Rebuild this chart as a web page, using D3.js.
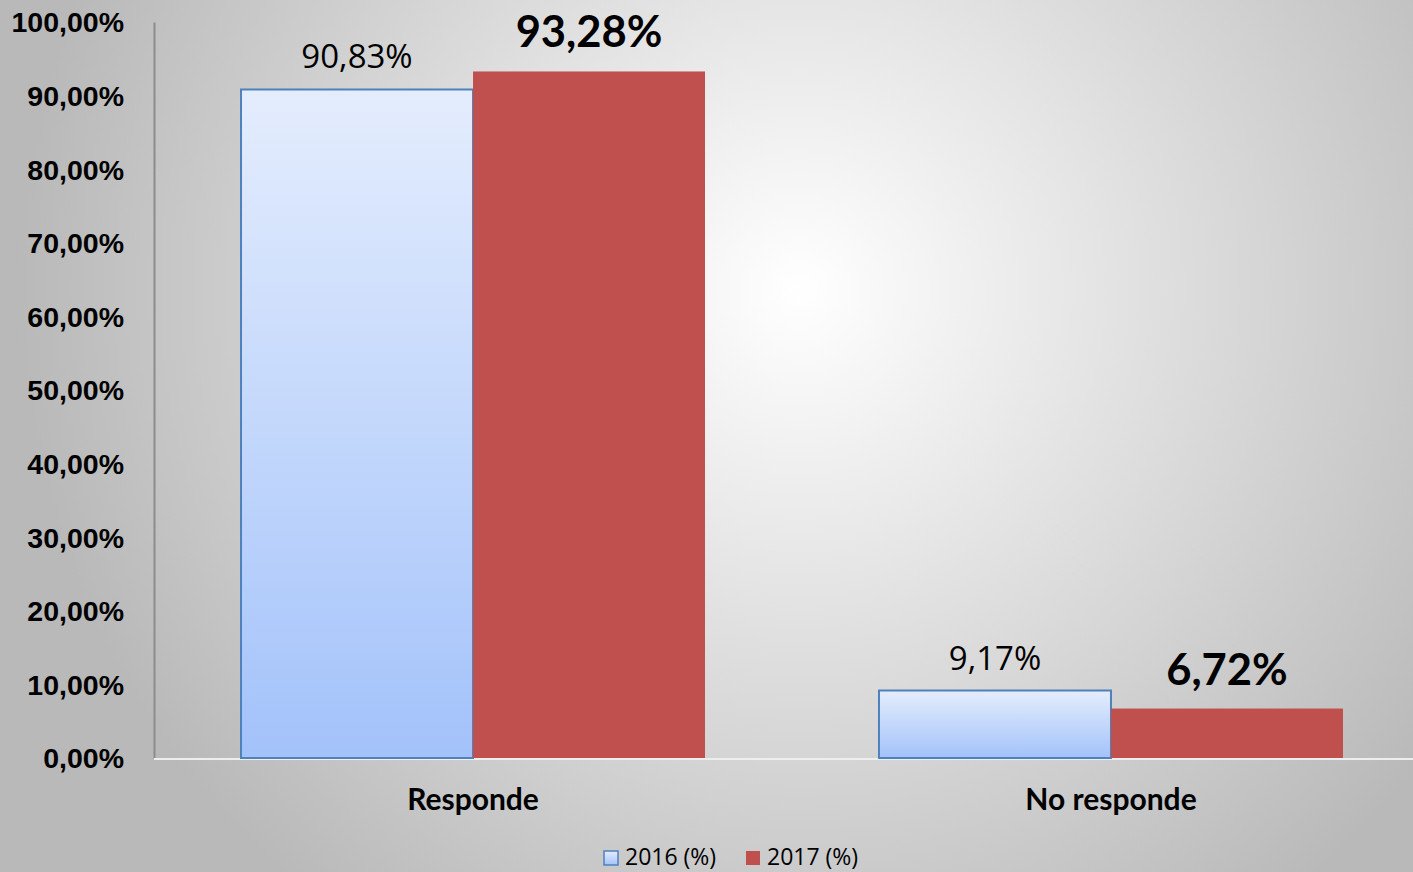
<!DOCTYPE html>
<html><head><meta charset="utf-8">
<script src="https://cdn.jsdelivr.net/npm/d3@7"></script>
<style>html,body{margin:0;padding:0;overflow:hidden;}svg{display:block;font-family:Lato,"Open Sans",sans-serif;}</style>
</head><body>
<svg id="chart" width="1413" height="872"></svg>
<script>
const categories = ["Responde", "No responde"];
const seriesNames = ["2016 (%)", "2017 (%)"];
const values2016 = [90.83, 9.17];
const values2017 = [93.28, 6.72];
const yTicks = [0,10,20,30,40,50,60,70,80,90,100];

const W = 1413, H = 872;
const svg = d3.select("#chart");
const defs = svg.append("defs");
const bg = defs.append("radialGradient").attr("id","bg").attr("gradientUnits","userSpaceOnUse")
  .attr("cx",800).attr("cy",290).attr("r",780);
bg.append("stop").attr("offset","0").attr("stop-color","#ffffff");
bg.append("stop").attr("offset","1").attr("stop-color","#b9b9b9");
const bl = defs.append("linearGradient").attr("id","blue").attr("x1",0).attr("y1",0).attr("x2",0).attr("y2",1);
bl.append("stop").attr("offset","0").attr("stop-color","#e4edfd");
bl.append("stop").attr("offset","1").attr("stop-color","#a3c2fa");

svg.append("rect").attr("width",W).attr("height",H).attr("fill","url(#bg)");

const fmt = v => d3.format(".2f")(v).replace(".", ",") + "%";
const x = d3.scaleBand().domain(categories).range([154, 1430]).paddingInner(0.2727).paddingOuter(0.1364);
const xs = d3.scaleBand().domain(seriesNames).range([0, x.bandwidth()]);
const y = d3.scaleLinear().domain([0,100]).range([758,22]);

// y axis
const yAxis = d3.axisLeft(y).tickValues(yTicks).tickSize(0).tickPadding(30).tickFormat(fmt);
const gy = svg.append("g").attr("transform","translate(154,0)").call(yAxis);
gy.select(".domain").attr("stroke","#8c8c8c").attr("stroke-width",2);
gy.selectAll("text").attr("font-size",28.5).attr("font-weight","bold").attr("fill","#000").attr("dy","0.35em");

// baseline
svg.append("line").attr("x1",154).attr("x2",W).attr("y1",y(0)+1).attr("y2",y(0)+1).attr("stroke","#eeeeee").attr("stroke-width",2);

const data = categories.map((c,i)=>({cat:c, v16:values2016[i], v17:values2017[i]}));

// 2016 bars
svg.selectAll(".b16").data(data).join("rect")
  .attr("x", d=>x(d.cat)+xs(seriesNames[0]))
  .attr("y", d=>y(d.v16))
  .attr("width", xs.bandwidth())
  .attr("height", d=>y(0)-y(d.v16))
  .attr("fill","url(#blue)").attr("stroke","#4f81bd").attr("stroke-width",2);
// 2017 bars
svg.selectAll(".b17").data(data).join("rect")
  .attr("x", d=>x(d.cat)+xs(seriesNames[1]))
  .attr("y", d=>y(d.v17))
  .attr("width", xs.bandwidth())
  .attr("height", d=>y(0)-y(d.v17))
  .attr("fill","#c0504d");

// labels
svg.selectAll(".l16").data(data).join("text")
  .attr("x", d=>x(d.cat)+xs(seriesNames[0])+xs.bandwidth()/2)
  .attr("y", d=>y(d.v16)-21)
  .attr("text-anchor","middle").attr("font-size",33).attr("fill","#000")
  .attr("font-family","'Open Sans',sans-serif")
  .text(d=>fmt(d.v16));
svg.selectAll(".l17").data(data).join("text")
  .attr("x", d=>x(d.cat)+xs(seriesNames[1])+xs.bandwidth()/2)
  .attr("y", d=>y(d.v17)-24)
  .attr("text-anchor","middle").attr("font-size",43.5).attr("font-weight","bold").attr("fill","#000")
  .text(d=>fmt(d.v17));

// x axis category labels
svg.selectAll(".cat").data(categories).join("text")
  .attr("x", d=>x(d)+x.bandwidth()/2).attr("y", 810)
  .attr("text-anchor","middle").attr("font-size",30).attr("font-weight","bold").attr("fill","#000")
  .text(d=>d);

// legend
const leg = svg.append("g");
const legX = [604, 746];
seriesNames.forEach((s,i)=>{
  const g = leg.append("g").attr("transform",`translate(${legX[i]},850)`);
  g.append("rect").attr("x",0).attr("y",1).attr("width",14).attr("height",14)
    .attr("fill", i===0 ? "url(#blue)" : "#c0504d").attr("stroke", i===0 ? "#4f81bd":"none").attr("stroke-width",1.5);
  g.append("text").attr("x",21).attr("y",15).attr("font-size",23).attr("fill","#000")
    .attr("font-family","'Open Sans',sans-serif").text(s);
});
</script>
</body></html>
